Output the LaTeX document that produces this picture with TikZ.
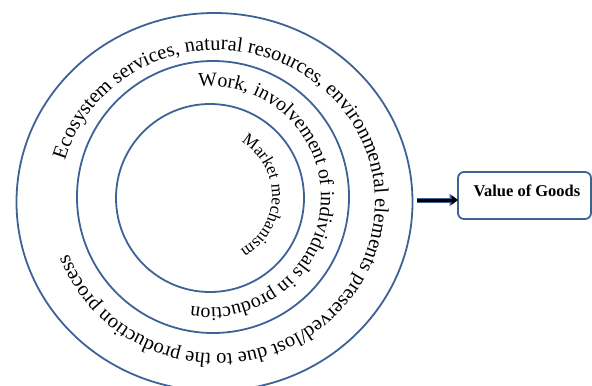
\documentclass[tikz,border=0pt]{standalone}
\usepackage{fontspec}
\setmainfont{Liberation Serif}
\usetikzlibrary{shapes.geometric,decorations.text,arrows.meta}
\definecolor{ringblue}{RGB}{62,98,150}
\begin{document}
\begin{tikzpicture}[x=1bp,y=1bp,
  ring/.style={draw=ringblue, line width=1.8bp, inner sep=0pt, outer sep=0pt},
  ringtext/.style={decorate, decoration={text along path, text align=left, text={#1}}},
  goodsbox/.style={draw=ringblue, line width=1.8bp, rounded corners=6bp, inner sep=0pt, outer sep=0pt},
]
\useasboundingbox (0,0) rectangle (592,385);

% three nested rings
\node[ring, ellipse, minimum width=396bp, minimum height=378bp] (outer) at (214.5,183) {};
\node[ring, circle, minimum size=272bp] (middle) at (213,188) {};
\node[ring, circle, minimum size=188bp] (inner) at (210,187) {};

% curved labels, running clockwise inside each ring
\path[ringtext={|\fontsize{20.4bp}{24bp}\selectfont|Ecosystem services, natural resources, environmental elements preserved/lost due to the production process}]
  (217,183) ++(164:158bp and 152bp) arc[start angle=164, end angle=-196, x radius=158bp, y radius=152bp];
\path[ringtext={|\fontsize{19.8bp}{24bp}\selectfont|Work, involvement of individuals in production}]
  (210,188) ++(96:111bp) arc[start angle=96, end angle=-200, radius=111bp];
\path[ringtext={|\fontsize{17bp}{20bp}\selectfont|Market mechanism}]
  (210,189) ++(60:62bp) arc[start angle=60, end angle=-200, radius=62bp];

% result box
\node[goodsbox, minimum width=133bp, minimum height=47bp] (goods) at (524.5,189.5) {};
\node[anchor=base, font=\bfseries\fontsize{16.5bp}{19bp}\selectfont] (goodslabel)
  at ([xshift=2.5bp,yshift=-0.5bp]goods.center) {Value of Goods};

% arrow from the rings to the box
\coordinate (tail) at (417,185);
\draw[ringblue, line width=5bp, -{Triangle[length=8.5bp,width=12bp]}] (tail) -- (tail -| goods.west);
\draw[black, line width=3bp, -{Triangle[length=6.5bp,width=9bp]}] (tail) -- (tail -| goods.west);
\end{tikzpicture}
\end{document}
